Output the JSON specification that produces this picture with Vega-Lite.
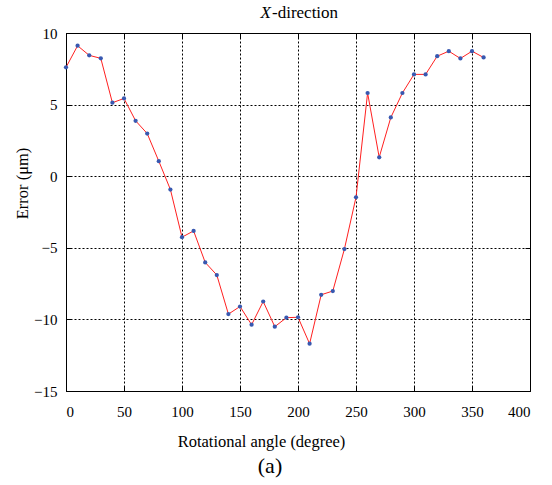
{
  "$schema": "https://vega.github.io/schema/vega-lite/v6.json",
  "width": 464,
  "height": 358,
  "autosize": "none",
  "padding": {"left": 66, "top": 33, "right": 22, "bottom": 94},
  "background": "white",
  "config": {
    "view": {"stroke": "black", "strokeWidth": 1},
    "axis": {
      "labelColor": "black",
      "titleColor": "black",
      "titleFontWeight": "normal",
      "domainColor": "black",
      "tickColor": "black",
      "gridColor": "black",
      "gridDash": [2, 2],
      "gridWidth": 1,
      "gridOpacity": 1,
      "tickSize": -5,
      "domain": false
    }
  },
  "title": {
    "text": "(a)",
    "orient": "bottom",
    "font": "Liberation Serif, Times New Roman, serif",
    "fontSize": 22,
    "fontWeight": "normal",
    "color": "black",
    "dx": -28,
    "offset": 6
  },
  "data": {
    "values": [
      {"angle": 0, "error": 7.6},
      {"angle": 10, "error": 9.11},
      {"angle": 20, "error": 8.44},
      {"angle": 30, "error": 8.23},
      {"angle": 40, "error": 5.13},
      {"angle": 50, "error": 5.43},
      {"angle": 60, "error": 3.87},
      {"angle": 70, "error": 2.98},
      {"angle": 80, "error": 1.05},
      {"angle": 90, "error": -0.93},
      {"angle": 100, "error": -4.26},
      {"angle": 110, "error": -3.82},
      {"angle": 120, "error": -6.02},
      {"angle": 130, "error": -6.9},
      {"angle": 140, "error": -9.63},
      {"angle": 150, "error": -9.1},
      {"angle": 160, "error": -10.37},
      {"angle": 170, "error": -8.75},
      {"angle": 180, "error": -10.51},
      {"angle": 190, "error": -9.88},
      {"angle": 200, "error": -9.85},
      {"angle": 210, "error": -11.7},
      {"angle": 220, "error": -8.28},
      {"angle": 230, "error": -8.02},
      {"angle": 240, "error": -5.09},
      {"angle": 250, "error": -1.47},
      {"angle": 260, "error": 5.81},
      {"angle": 270, "error": 1.32},
      {"angle": 280, "error": 4.1},
      {"angle": 290, "error": 5.81},
      {"angle": 300, "error": 7.11},
      {"angle": 310, "error": 7.11},
      {"angle": 320, "error": 8.38},
      {"angle": 330, "error": 8.73},
      {"angle": 340, "error": 8.22},
      {"angle": 350, "error": 8.73},
      {"angle": 360, "error": 8.29}
    ]
  },
  "resolve": {"axis": {"x": "independent", "y": "independent"}},
  "layer": [
    {
      "mark": {"type": "line", "color": "#ff2020", "strokeWidth": 1},
      "encoding": {
        "x": {
          "field": "angle",
          "type": "quantitative",
          "scale": {"domain": [0, 400], "nice": false, "zero": false},
          "axis": {
            "values": [0, 50, 100, 150, 200, 250, 300, 350, 400],
            "title": "Rotational angle (degree)",
            "labelFont": "Liberation Serif, Times New Roman, serif",
            "titleFont": "Liberation Serif, Times New Roman, serif",
            "labelFontSize": 15,
            "titleFontSize": 16.5,
            "labelPadding": 18,
            "titleX": 195,
            "titleY": 50,
            "titleBaseline": "middle"
          }
        },
        "y": {
          "field": "error",
          "type": "quantitative",
          "scale": {"domain": [-15, 10], "nice": false, "zero": false},
          "axis": {
            "values": [-15, -10, -5, 0, 5, 10],
            "title": "Error (μm)",
            "labelFont": "Liberation Serif, Times New Roman, serif",
            "titleFont": "Liberation Serif, Times New Roman, serif",
            "labelFontSize": 15,
            "titleFontSize": 16.5,
            "labelPadding": 14,
            "titleX": -44,
            "titleY": 150,
            "titleAngle": -90,
            "titleAlign": "center",
            "titleBaseline": "middle"
          }
        }
      }
    },
    {
      "mark": {"type": "circle", "color": "#3858b0", "size": 18, "opacity": 1},
      "encoding": {
        "x": {
          "field": "angle",
          "type": "quantitative",
          "axis": {"orient": "top", "values": [0, 50, 100, 150, 200, 250, 300, 350, 400], "labels": false, "title": null, "grid": false}
        },
        "y": {
          "field": "error",
          "type": "quantitative",
          "axis": {"orient": "right", "values": [-15, -10, -5, 0, 5, 10], "labels": false, "title": null, "grid": false}
        }
      }
    },
    {
      "data": {"values": [{"t": "X", "a": 200, "e": 10}]},
      "mark": {"type": "text", "font": "Liberation Serif, Times New Roman, serif", "fontSize": 17, "fontStyle": "italic", "align": "right", "baseline": "bottom", "dx": -27, "dy": -11, "color": "black", "clip": false},
      "encoding": {"x": {"field": "a", "type": "quantitative", "axis": null}, "y": {"field": "e", "type": "quantitative", "axis": null}, "text": {"field": "t"}}
    },
    {
      "data": {"values": [{"t": "-direction", "a": 200, "e": 10}]},
      "mark": {"type": "text", "font": "Liberation Serif, Times New Roman, serif", "fontSize": 17, "align": "left", "baseline": "bottom", "dx": -26, "dy": -11, "color": "black", "clip": false},
      "encoding": {"x": {"field": "a", "type": "quantitative", "axis": null}, "y": {"field": "e", "type": "quantitative", "axis": null}, "text": {"field": "t"}}
    }
  ]
}
